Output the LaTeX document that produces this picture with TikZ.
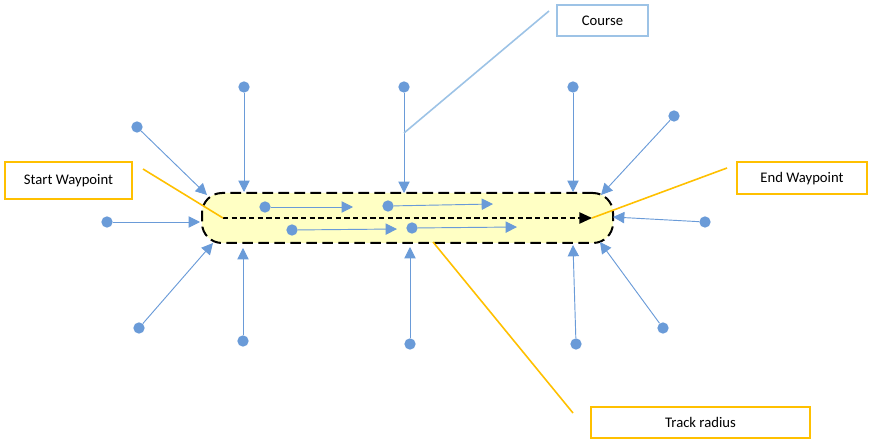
\documentclass[tikz,border=0pt]{standalone}
\usepackage{fontspec}
\setmainfont{Carlito}
\usetikzlibrary{arrows.meta}

\definecolor{wayblue}{RGB}{106,155,216}
\definecolor{courseblue}{RGB}{157,195,230}
\definecolor{gold}{RGB}{255,192,0}
\definecolor{trackfill}{RGB}{255,255,196}

\begin{document}
\begin{tikzpicture}[x=0.75pt,y=-0.75pt,
  wpt/.style={circle,fill=wayblue,inner sep=0pt,minimum size=8.5pt},
  flow/.style={wayblue,line width=0.7pt,-{Triangle[length=8.5pt,width=8.5pt]}},
  label/.style={draw=gold,line width=1.5pt,fill=white,font=\fontsize{11}{13}\selectfont},
  lead/.style={gold,line width=1.2pt},
  track/.style={draw=black,fill=trackfill,line width=1.5pt,dash pattern=on 8pt off 4pt,
    rounded corners=15pt,minimum width=308.25pt,minimum height=37.5pt}]

\useasboundingbox (0,0) rectangle (872,442);

% Track corridor
\node[track] (track) at (407.5,218) {};

% Course line from start to end waypoint
\coordinate (start) at (223,218);
\coordinate (end)   at (592,218);
\draw[black,line width=1.1pt,dash pattern=on 4pt off 2.5pt,
  -{Triangle[length=9.5pt,width=8.5pt]}] (start) -- (end);

% Points inside the track
\node[wpt] (i1) at (265,207) {};
\node[wpt] (i2) at (388,206) {};
\node[wpt] (i3) at (292,230) {};
\node[wpt] (i4) at (412,228) {};
\coordinate (i1h) at (353,207);
\coordinate (i2h) at (493,204);
\coordinate (i3h) at (397,229);
\coordinate (i4h) at (517,227);
\draw[flow] (i1) -- (i1h);
\draw[flow] (i2) -- (i2h);
\draw[flow] (i3) -- (i3h);
\draw[flow] (i4) -- (i4h);

% Points outside the track
\node[wpt] (o1)  at (137,127) {};
\node[wpt] (o2)  at (244,87)  {};
\node[wpt] (o3)  at (404,87)  {};
\node[wpt] (o4)  at (573,87)  {};
\node[wpt] (o5)  at (674,116) {};
\node[wpt] (o6)  at (107,222) {};
\node[wpt] (o7)  at (705,222) {};
\node[wpt] (o8)  at (139,328) {};
\node[wpt] (o9)  at (243,341) {};
\node[wpt] (o10) at (410,344) {};
\node[wpt] (o11) at (576,344) {};
\node[wpt] (o12) at (663,328) {};

\coordinate (o1h)  at (207,195);
\coordinate (o2h)  at (244,192);
\coordinate (o3h)  at (404,193);
\coordinate (o4h)  at (573,192);
\coordinate (o5h)  at (601,195);
\coordinate (o6h)  at (200,222);
\coordinate (o7h)  at (613,217);
\coordinate (o8h)  at (213,243);
\coordinate (o9h)  at (243,248);
\coordinate (o10h) at (410,247);
\coordinate (o11h) at (573,245);
\coordinate (o12h) at (600,242);

\draw[flow] (o1) -- (o1h);
\draw[flow] (o2) -- (o2h);
\draw[flow] (o3) -- (o3h);
\draw[flow] (o4) -- (o4h);
\draw[flow] (o5) -- (o5h);
\draw[flow] (o6) -- (o6h);
\draw[flow] (o7) -- (o7h);
\draw[flow] (o8) -- (o8h);
\draw[flow] (o9) -- (o9h);
\draw[flow] (o10) -- (o10h);
\draw[flow] (o11) -- (o11h);
\draw[flow] (o12) -- (o12h);

% Labels
\node[label,minimum width=95.25pt,minimum height=27.5pt] (startlbl) at (68.5,180.5) {Start Waypoint};
\node[label,minimum width=97.5pt,minimum height=24pt] (endlbl) at (802,178.5) {End Waypoint};
\node[label,minimum width=164.25pt,minimum height=23.25pt] (radlbl) at (700.5,422.5) {Track radius};
\node[label,draw=courseblue,minimum width=68.25pt,minimum height=23.25pt] (courselbl) at (602.5,20.5) {Course};

% Leader lines
\coordinate (startlead) at (143,169);
\coordinate (endlead)   at (727,168);
\coordinate (radlead)   at (573,413);
\coordinate (radtrack)  at (433,242);
\coordinate (courselead) at (549,11);
\coordinate (coursept)   at (404,133);
\draw[lead] (startlead) -- (start);
\draw[lead] (endlead) -- (end);
\draw[lead] (radtrack) -- (radlead);
\draw[courseblue,line width=1.2pt] (courselead) -- (coursept);

\end{tikzpicture}
\end{document}
